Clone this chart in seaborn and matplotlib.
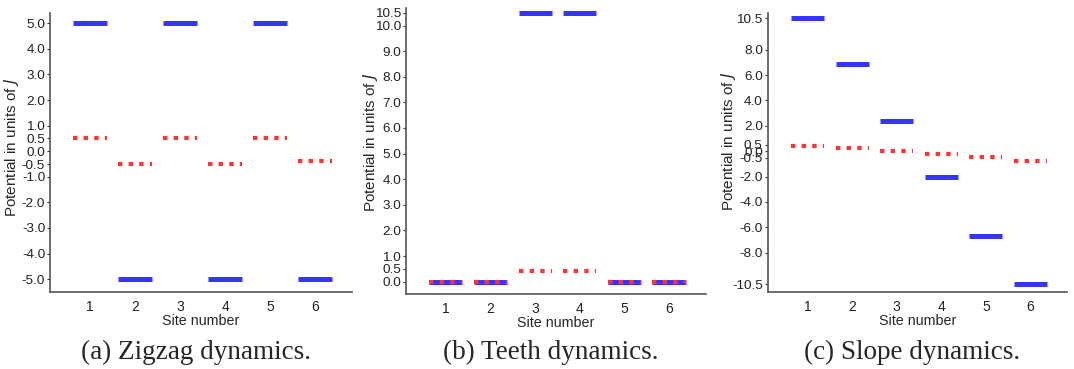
import numpy as np
import pandas as pd
import matplotlib
matplotlib.use("Agg")
import matplotlib.pyplot as plt
import seaborn as sns

sites = [1, 2, 3, 4, 5, 6]

# potential values per site (blue = bare potential, red = effective potential)
zigzag_blue = [5.0, -5.0, 5.0, -5.0, 5.0, -5.0]
zigzag_red = [0.5, -0.5, 0.5, -0.5, 0.5, -0.4]
teeth_blue = [0.0, 0.0, 10.5, 10.5, 0.0, 0.0]
teeth_red = [0.0, 0.0, 0.42, 0.42, 0.0, 0.0]
slope_blue = [10.5, 6.85, 2.4, -2.05, -6.7, -10.5]
slope_red = [0.45, 0.24, -0.02, -0.24, -0.47, -0.79]

zigzag_ticks = [-5, -4, -3, -2, -1, -0.5, 0, 0.5, 1, 2, 3, 4, 5]
teeth_ticks = [0, 0.5, 1, 2, 3, 4, 5, 6, 7, 8, 9, 10, 10.5]
slope_ticks = [-10.5, -8, -6, -4, -2, -0.5, 0, 0.5, 2, 4, 6, 8, 10.5]

captions = ["(a) Zigzag dynamics.", "(b) Teeth dynamics.", "(c) Slope dynamics."]

panels = [
    (zigzag_blue, zigzag_red, zigzag_ticks, (-5.5, 5.4)),
    (teeth_blue, teeth_red, teeth_ticks, (-0.48, 10.68)),
    (slope_blue, slope_red, slope_ticks, (-11.1, 10.9)),
]
positions = [
    [0.0466, 0.2087, 0.2811, 0.7561],
    [0.378, 0.2033, 0.279, 0.7747],
    [0.7148, 0.2087, 0.2787, 0.7561],
]
ylabel_xy = [(-0.096, 0.518), (-0.087, 0.53), (-0.099, 0.54)]

half = 0.37  # half width of each level segment


def segments(values):
    rows = []
    for s, v in zip(sites, values):
        rows.append({"site": s, "x": s - half, "y": v})
        rows.append({"site": s, "x": s + half, "y": v})
    return pd.DataFrame(rows)


sns.set_theme(style="white")
plt.rcParams["font.family"] = ["Liberation Sans", "DejaVu Sans"]
plt.rcParams["mathtext.fontset"] = "dejavusans"

fig = plt.figure(figsize=(10.74, 3.69), dpi=100)

for (blue, red, ticks, ylim), pos, cap, lxy in zip(panels, positions, captions, ylabel_xy):
    ax = fig.add_axes(pos)
    sns.lineplot(data=segments(blue), x="x", y="y", units="site", estimator=None,
                 color="#3535ff", lw=3.6, solid_capstyle="butt", ax=ax)
    sns.lineplot(data=segments(red), x="x", y="y", units="site", estimator=None,
                 color="#ff3333", lw=3.0, linestyle=(0, (1.05, 1.5)), ax=ax)
    ax.set_xlim(0.11, 6.82)
    ax.set_ylim(*ylim)
    ax.set_xticks(sites)
    ax.set_yticks(ticks)
    ax.set_yticklabels([f"{t:.1f}" for t in ticks])
    ax.tick_params(axis="y", length=2.5, width=0.8, color="#333333", labelsize=9.7,
                   pad=1, left=True, labelcolor="#222222")
    ax.tick_params(axis="x", length=0, labelsize=10, pad=6, labelcolor="#222222")
    ax.set_xlabel("Site number", fontsize=10.3, labelpad=0)
    ax.set_ylabel("Potential in units of $J$", fontsize=11)
    ax.yaxis.set_label_coords(*lxy)
    sns.despine(ax=ax)
    for sp in ("left", "bottom"):
        ax.spines[sp].set_color("#555555")
        ax.spines[sp].set_linewidth(1.2)
    cx = pos[0] + pos[2] / 2 - 0.005
    fig.text(cx, 0.045, cap, ha="center", va="center", fontsize=19.5,
             family="Liberation Serif")

fig.savefig("out.png", dpi=100)
